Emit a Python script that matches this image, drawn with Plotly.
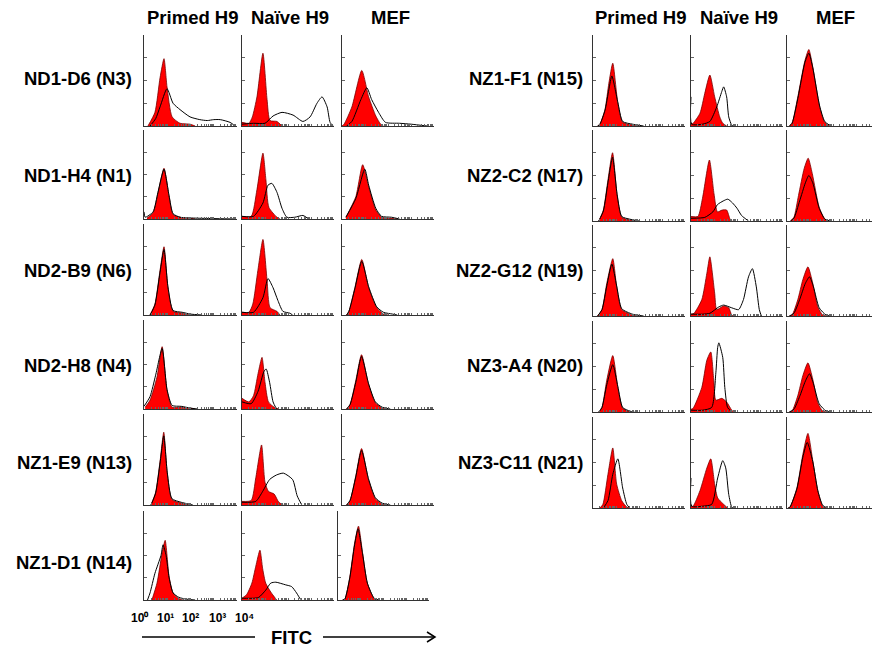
import math
import plotly.graph_objects as go

# ---------------- text / categories ----------------
cell_types = ["Primed H9", "Naïve H9", "MEF"]
left_samples = ["ND1-D6 (N3)", "ND1-H4 (N1)", "ND2-B9 (N6)", "ND2-H8 (N4)", "NZ1-E9 (N13)", "NZ1-D1 (N14)"]
right_samples = ["NZ1-F1 (N15)", "NZ2-C2 (N17)", "NZ2-G12 (N19)", "NZ3-A4 (N20)", "NZ3-C11 (N21)"]
decade_labels = ["10⁰", "10¹", "10²", "10³", "10⁴"]
axis_title = "FITC"

# ---------------- histogram curves: (log10 FITC, % of max count) ----------------
# red = control (filled), black = antibody (outline)
nd1_d6_primed_red = [(0.17,0),(0.47,15),(0.69,53),(0.86,74),(0.99,43),(1.21,10),(1.55,3),(1.98,2),(2.2,0)]
nd1_d6_primed_black = [(0.26,0),(0.5,8),(0.69,21),(0.99,41),(1.25,25),(1.55,18),(1.98,10),(2.4,7),(2.72,6),(3.0,7),(3.28,7),(3.7,4),(3.92,0)]
nd1_d6_naive_red = [(0,4),(0.3,3),(0.45,10),(0.65,32),(0.91,80),(1.09,29),(1.22,6),(1.52,5),(1.74,0)]
nd1_d6_naive_black = [(0,2),(0.5,3),(1.0,3),(1.35,11),(1.74,15),(2.22,12),(2.65,5),(2.96,10),(3.26,25),(3.48,32),(3.7,21),(3.83,4),(3.96,0)]
nd1_d6_mef_red = [(0,0),(0.09,2),(0.43,21),(0.86,61),(1.16,32),(1.47,11),(1.68,2),(1.8,0)]
nd1_d6_mef_black = [(0.2,0),(0.43,5),(0.82,29),(1.08,42),(1.29,29),(1.59,15),(1.89,4),(2.5,3),(3.0,2),(3.7,0)]

nd1_h4_primed_red = [(0.13,1),(0.39,7),(0.6,29),(0.86,57),(1.08,25),(1.25,5),(1.55,2),(1.9,1),(2.2,0)]
nd1_h4_primed_black = [(0,8),(0.05,2),(0.39,8),(0.6,30),(0.86,56),(1.08,26),(1.25,6),(1.55,2),(2.2,1),(3.9,0)]
nd1_h4_naive_red = [(0,3),(0.4,3),(0.65,33),(0.91,74),(1.04,44),(1.17,13),(1.52,2),(1.65,0)]
nd1_h4_naive_black = [(0,3),(0.5,3),(0.91,18),(1.13,38),(1.3,40),(1.52,30),(1.74,12),(1.95,2),(2.3,2),(2.65,4),(2.9,0)]
nd1_h4_mef_red = [(0.17,2),(0.6,25),(0.9,61),(1.16,36),(1.47,10),(1.72,2),(2.0,1),(2.4,0)]
nd1_h4_mef_black = [(0.17,2),(0.6,23),(0.99,56),(1.16,38),(1.47,12),(1.72,3),(2.15,2),(2.5,0)]

nd2_b9_primed_red = [(0.26,0),(0.47,12),(0.69,49),(0.86,75),(1.03,30),(1.25,4),(1.64,2),(1.98,0)]
nd2_b9_primed_black = [(0.26,0),(0.47,11),(0.69,47),(0.86,72),(1.03,31),(1.25,5),(1.64,3),(2.0,1),(2.5,0)]
nd2_b9_naive_red = [(0,3),(0.3,3),(0.47,12),(0.69,49),(0.91,83),(1.09,38),(1.22,8),(1.52,4),(1.65,0)]
nd2_b9_naive_black = [(0,3),(0.5,3),(0.91,19),(1.13,40),(1.35,30),(1.56,16),(1.78,4),(2.08,2),(2.2,0)]
nd2_b9_mef_red = [(0.2,0),(0.3,4),(0.56,30),(0.86,61),(1.16,30),(1.51,8),(1.8,1),(2.0,0)]
nd2_b9_mef_black = [(0.2,0),(0.3,4),(0.56,29),(0.86,59),(1.16,31),(1.51,9),(1.8,3),(2.2,1),(2.4,0)]

nd2_h8_primed_red = [(0.05,2),(0.26,10),(0.56,36),(0.78,70),(0.99,21),(1.21,2),(1.6,2),(1.98,1),(2.2,0)]
nd2_h8_primed_black = [(0,3),(0.26,14),(0.5,38),(0.78,68),(0.99,22),(1.21,4),(1.6,3),(2.0,1),(2.3,0)]
nd2_h8_naive_red = [(0,12),(0.3,8),(0.5,15),(0.7,40),(0.87,58),(1.0,30),(1.15,8),(1.4,2),(1.6,0)]
nd2_h8_naive_black = [(0,8),(0.4,6),(0.7,20),(0.95,42),(1.05,45),(1.2,30),(1.35,8),(1.5,0)]
nd2_h8_mef_red = [(0.2,0),(0.35,5),(0.6,32),(0.85,61),(1.15,28),(1.45,7),(1.75,1),(1.9,0)]
nd2_h8_mef_black = [(0.2,0),(0.35,5),(0.6,30),(0.85,59),(1.15,29),(1.45,8),(1.75,2),(2.1,0)]

nz1_e9_primed_red = [(0.3,0),(0.5,14),(0.7,50),(0.85,80),(1.0,35),(1.2,6),(1.6,2),(2.0,0)]
nz1_e9_primed_black = [(0.3,0),(0.5,13),(0.7,48),(0.85,76),(1.0,36),(1.2,7),(1.6,3),(2.1,0)]
nz1_e9_naive_red = [(0,4),(0.4,5),(0.6,30),(0.85,66),(1.0,25),(1.15,15),(1.4,12),(1.6,3),(1.8,0)]
nz1_e9_naive_black = [(0,3),(0.6,4),(0.9,15),(1.2,28),(1.5,33),(1.8,35),(2.2,28),(2.4,10),(2.6,0)]
nz1_e9_mef_red = [(0.2,0),(0.35,5),(0.6,32),(0.85,62),(1.15,28),(1.45,7),(1.75,1),(1.9,0)]
nz1_e9_mef_black = [(0.2,0),(0.35,5),(0.6,31),(0.85,60),(1.15,29),(1.45,8),(1.75,2),(2.1,0)]

nz1_d1_primed_red = [(0.34,0),(0.56,19),(0.78,53),(0.91,67),(1.08,26),(1.25,8),(1.47,2),(1.68,0)]
nz1_d1_primed_black = [(0.15,0),(0.26,8),(0.47,30),(0.73,50),(0.82,62),(0.95,50),(1.08,25),(1.25,8),(1.5,3),(1.8,1),(2.2,0)]
nz1_d1_naive_red = [(0,2),(0.2,6),(0.43,19),(0.6,38),(0.78,56),(0.9,35),(1.03,19),(1.25,9),(1.51,0)]
nz1_d1_naive_black = [(0,2),(0.5,2),(0.73,3),(1.03,11),(1.25,19),(1.47,20),(1.9,17),(2.16,15),(2.37,8),(2.54,1),(2.6,0)]
nz1_d1_mef_red = [(0.2,0),(0.3,1),(0.52,26),(0.73,64),(0.9,83),(1.08,53),(1.29,19),(1.59,1),(1.7,0)]
nz1_d1_mef_black = [(0.2,0),(0.3,1),(0.52,25),(0.73,62),(0.88,80),(1.08,52),(1.29,19),(1.59,2),(1.8,0)]

nz1_f1_primed_red = [(0.2,0),(0.3,2),(0.52,18),(0.69,47),(0.86,69),(1.08,25),(1.29,4),(1.72,1),(2.0,0)]
nz1_f1_primed_black = [(0.2,0),(0.3,2),(0.52,17),(0.69,40),(0.82,55),(1.08,26),(1.29,5),(1.72,2),(2.2,0)]
nz1_f1_naive_red = [(0,2),(0.09,3),(0.39,14),(0.6,36),(0.82,56),(1.03,32),(1.25,10),(1.38,3),(1.55,0)]
nz1_f1_naive_black = [(0,32),(0.03,2),(0.5,2),(0.82,5),(1.12,21),(1.34,38),(1.42,43),(1.55,32),(1.64,10),(1.77,1),(1.85,0)]
nz1_f1_mef_red = [(0.1,0),(0.22,3),(0.47,32),(0.78,72),(0.95,84),(1.12,65),(1.42,21),(1.64,4),(1.85,0)]
nz1_f1_mef_black = [(0.1,0),(0.22,3),(0.47,30),(0.78,70),(0.95,80),(1.12,64),(1.42,22),(1.64,5),(1.9,0)]

nz2_c2_primed_red = [(0.25,0),(0.45,12),(0.65,45),(0.85,75),(1.05,28),(1.25,4),(1.6,1),(1.9,0)]
nz2_c2_primed_black = [(0.25,0),(0.45,11),(0.65,42),(0.85,70),(1.05,29),(1.25,5),(1.6,2),(2.0,0)]
nz2_c2_naive_red = [(0,5),(0.3,5),(0.5,25),(0.8,67),(1.0,30),(1.15,10),(1.35,12),(1.55,12),(1.7,2),(1.8,0)]
nz2_c2_naive_black = [(0,3),(0.6,4),(0.95,10),(1.15,18),(1.4,22),(1.6,24),(1.8,20),(2.0,14),(2.2,6),(2.5,0)]
nz2_c2_mef_red = [(0.15,0),(0.3,4),(0.5,28),(0.75,58),(0.92,69),(1.1,52),(1.4,15),(1.65,2),(1.85,0)]
nz2_c2_mef_black = [(0.15,0),(0.3,3),(0.55,22),(0.8,42),(0.95,50),(1.12,42),(1.4,14),(1.65,2),(1.9,0)]

nz2_g12_primed_red = [(0.2,0),(0.39,7),(0.6,36),(0.86,63),(1.03,32),(1.25,7),(1.72,1),(2.0,0)]
nz2_g12_primed_black = [(0.2,0),(0.39,7),(0.6,33),(0.82,57),(1.03,33),(1.25,8),(1.72,2),(2.2,0)]
nz2_g12_naive_red = [(0,2),(0.13,3),(0.47,18),(0.69,47),(0.82,65),(1.03,25),(1.12,7),(1.42,11),(1.64,9),(1.77,1),(1.85,0)]
nz2_g12_naive_black = [(0,2),(0.5,2),(0.82,3),(1.21,10),(1.42,12),(1.77,9),(2.07,7),(2.28,18),(2.5,43),(2.67,52),(2.84,32),(2.97,7),(3.06,0)]
nz2_g12_mef_red = [(0.1,0),(0.22,1),(0.47,18),(0.69,40),(0.91,54),(1.12,36),(1.34,10),(1.55,1),(1.7,0)]
nz2_g12_mef_black = [(0.1,0),(0.3,3),(0.55,18),(0.8,36),(0.98,43),(1.15,32),(1.4,9),(1.7,1),(1.9,0)]

nz3_a4_primed_red = [(0.25,0),(0.39,5),(0.6,35),(0.86,62),(1.08,27),(1.29,4),(1.6,0)]
nz3_a4_primed_black = [(0.25,0),(0.39,5),(0.6,30),(0.86,52),(1.08,28),(1.29,5),(1.6,1),(1.8,0)]
nz3_a4_naive_red = [(0,3),(0.09,4),(0.47,27),(0.69,57),(0.86,66),(0.99,35),(1.08,13),(1.34,15),(1.55,11),(1.77,2),(1.85,0)]
nz3_a4_naive_black = [(0,2),(0.5,2),(0.9,5),(1.08,43),(1.16,71),(1.21,76),(1.38,60),(1.47,27),(1.59,5),(1.77,0)]
nz3_a4_mef_red = [(0.1,0),(0.22,1),(0.47,18),(0.69,40),(0.91,54),(1.12,36),(1.34,10),(1.55,1),(1.7,0)]
nz3_a4_mef_black = [(0.1,0),(0.3,3),(0.55,17),(0.8,34),(0.98,42),(1.15,31),(1.4,9),(1.7,1),(1.9,0)]

nz3_c11_primed_red = [(0.3,0),(0.43,4),(0.65,37),(0.86,66),(1.03,26),(1.25,8),(1.47,1),(1.6,0)]
nz3_c11_primed_black = [(0.45,0),(0.65,8),(0.86,37),(1.08,54),(1.29,22),(1.47,4),(1.6,0)]
nz3_c11_naive_red = [(0,2),(0.09,2),(0.39,19),(0.69,44),(0.86,54),(1.03,26),(1.16,11),(1.38,5),(1.59,0)]
nz3_c11_naive_black = [(0,33),(0.03,2),(0.5,2),(0.9,4),(1.16,33),(1.38,52),(1.51,44),(1.64,15),(1.77,1),(1.85,0)]
nz3_c11_mef_red = [(0.05,0),(0.13,1),(0.43,22),(0.69,59),(0.91,82),(1.12,52),(1.34,19),(1.55,2),(1.68,0)]
nz3_c11_mef_black = [(0.05,0),(0.13,1),(0.43,21),(0.69,56),(0.88,72),(1.12,51),(1.34,19),(1.55,3),(1.75,0)]

# ---------------- tables built from the lists ----------------
left_curves = [
    [(nd1_d6_primed_red, nd1_d6_primed_black), (nd1_d6_naive_red, nd1_d6_naive_black), (nd1_d6_mef_red, nd1_d6_mef_black)],
    [(nd1_h4_primed_red, nd1_h4_primed_black), (nd1_h4_naive_red, nd1_h4_naive_black), (nd1_h4_mef_red, nd1_h4_mef_black)],
    [(nd2_b9_primed_red, nd2_b9_primed_black), (nd2_b9_naive_red, nd2_b9_naive_black), (nd2_b9_mef_red, nd2_b9_mef_black)],
    [(nd2_h8_primed_red, nd2_h8_primed_black), (nd2_h8_naive_red, nd2_h8_naive_black), (nd2_h8_mef_red, nd2_h8_mef_black)],
    [(nz1_e9_primed_red, nz1_e9_primed_black), (nz1_e9_naive_red, nz1_e9_naive_black), (nz1_e9_mef_red, nz1_e9_mef_black)],
    [(nz1_d1_primed_red, nz1_d1_primed_black), (nz1_d1_naive_red, nz1_d1_naive_black), (nz1_d1_mef_red, nz1_d1_mef_black)],
]
right_curves = [
    [(nz1_f1_primed_red, nz1_f1_primed_black), (nz1_f1_naive_red, nz1_f1_naive_black), (nz1_f1_mef_red, nz1_f1_mef_black)],
    [(nz2_c2_primed_red, nz2_c2_primed_black), (nz2_c2_naive_red, nz2_c2_naive_black), (nz2_c2_mef_red, nz2_c2_mef_black)],
    [(nz2_g12_primed_red, nz2_g12_primed_black), (nz2_g12_naive_red, nz2_g12_naive_black), (nz2_g12_mef_red, nz2_g12_mef_black)],
    [(nz3_a4_primed_red, nz3_a4_primed_black), (nz3_a4_naive_red, nz3_a4_naive_black), (nz3_a4_mef_red, nz3_a4_mef_black)],
    [(nz3_c11_primed_red, nz3_c11_primed_black), (nz3_c11_naive_red, nz3_c11_naive_black), (nz3_c11_mef_red, nz3_c11_mef_black)],
]

# ---------------- layout geometry (page pixels) ----------------
OFF = 8                 # page body margin in front of the figure
W, H = 872, 650         # figure size
left_cols = [(144, 237), (242, 334), (342, 434)]
left_rows = [(35, 126), (130, 219), (224, 315), (320, 409), (414, 505), (511, 600)]
right_cols = [(593, 685), (691, 783), (787, 879)]
right_rows = [(35, 126), (130, 221), (225, 316), (321, 412), (417, 508)]
left_label_y = [78, 175, 270, 365, 462, 562]
right_label_y = [78, 175, 270, 365, 462]


def px(x):
    return (x - OFF) / W


def py(y):
    return 1 - (y - OFF) / H


minor_ticks = [d + math.log10(k) for d in range(4) for k in range(1, 10)] + [4]

fig = go.Figure()
layout = dict(
    width=W, height=H, margin=dict(l=0, r=0, t=0, b=0),
    paper_bgcolor="white", plot_bgcolor="white", showlegend=False,
    font=dict(family="Liberation Sans, Arial, sans-serif", color="black"),
)
annotations = []
shapes = []

axis_color = "#333333"
k = 0
for block, (curves, cols, rows) in enumerate([(left_curves, left_cols, left_rows),
                                              (right_curves, right_cols, right_rows)]):
    for r, row in enumerate(curves):
        for c, (red, black) in enumerate(row):
            k += 1
            sx = "" if k == 1 else str(k)
            x0, x1 = cols[c]
            if block == 0 and r == len(curves) - 1 and c == 2:
                x0, x1 = 338, 429
            y0, y1 = rows[r]
            layout["xaxis" + sx] = dict(
                domain=[px(x0), px(x1)], range=[0, 4], anchor="y" + sx,
                showline=True, linecolor=axis_color, linewidth=1,
                ticks="inside", ticklen=2, tickwidth=1, tickcolor="#666666",
                tickvals=minor_ticks, showticklabels=False,
                showgrid=False, zeroline=False, fixedrange=True,
            )
            layout["yaxis" + sx] = dict(
                domain=[py(y1), py(y0)], range=[0, 100], anchor="x" + sx,
                showline=True, linecolor=axis_color, linewidth=1,
                ticks="inside", ticklen=3, tickwidth=1, tickcolor="#666666",
                tickvals=[0, 25, 50, 75, 100], showticklabels=False,
                showgrid=False, zeroline=False, fixedrange=True,
            )
            fig.add_trace(go.Scatter(
                x=[p[0] for p in red], y=[p[1] for p in red],
                xaxis="x" + sx, yaxis="y" + sx, mode="lines",
                fill="tozeroy", fillcolor="#ff0000",
                line=dict(color="#7a0000", width=0.8, shape="spline", smoothing=0.6),
                hoverinfo="skip",
            ))
            fig.add_trace(go.Scatter(
                x=[p[0] for p in black], y=[p[1] for p in black],
                xaxis="x" + sx, yaxis="y" + sx, mode="lines",
                line=dict(color="black", width=1, shape="spline", smoothing=0.6),
                hoverinfo="skip",
            ))

# column headers
for cols in (left_cols, right_cols):
    for c, name in enumerate(cell_types):
        annotations.append(dict(
            x=px((cols[c][0] + cols[c][1]) / 2 + 2), y=py(18), xref="paper", yref="paper",
            text="<b>%s</b>" % name, showarrow=False, xanchor="center", yanchor="middle",
            font=dict(size=18.5, color="black"),
        ))

# row labels
for samples, ys, xr in ((left_samples, left_label_y, 134), (right_samples, right_label_y, 585)):
    for name, yy in zip(samples, ys):
        annotations.append(dict(
            x=px(xr), y=py(yy), xref="paper", yref="paper",
            text="<b>%s</b>" % name, showarrow=False, xanchor="right", yanchor="middle",
            font=dict(size=18.5, color="black"),
        ))

# decade labels under bottom-left panel
for lab, xx in zip(decade_labels, [140, 165, 190, 217, 244]):
    annotations.append(dict(
        x=px(xx), y=py(618), xref="paper", yref="paper",
        text="<b>%s</b>" % lab, showarrow=False, xanchor="center", yanchor="middle",
        font=dict(size=12, color="black"),
    ))

# FITC axis title with arrow
annotations.append(dict(
    x=px(291), y=py(637), xref="paper", yref="paper",
    text="<b>%s</b>" % axis_title, showarrow=False, xanchor="center", yanchor="middle",
    font=dict(size=18.5, color="black"),
))
shapes.append(dict(type="line", xref="paper", yref="paper",
                   x0=px(142), x1=px(255), y0=py(637), y1=py(637),
                   line=dict(color="black", width=1.5)))
shapes.append(dict(type="line", xref="paper", yref="paper",
                   x0=px(323), x1=px(435), y0=py(637), y1=py(637),
                   line=dict(color="black", width=1.5)))
shapes.append(dict(type="path", xref="paper", yref="paper",
                   path="M %f,%f L %f,%f L %f,%f" % (px(427), py(632), px(435), py(637), px(427), py(642)),
                   line=dict(color="black", width=1.5)))

layout["annotations"] = annotations
layout["shapes"] = shapes
fig.update_layout(**layout)
fig.write_html("out.html")
